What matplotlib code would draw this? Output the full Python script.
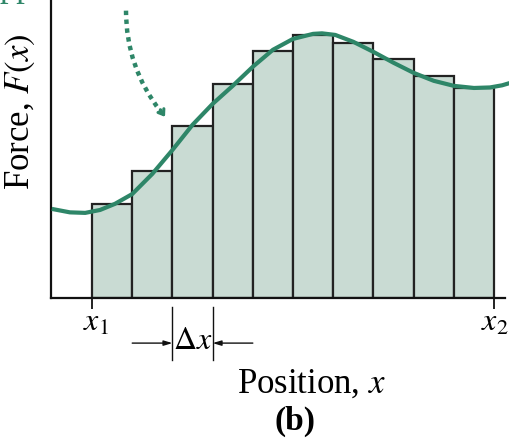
import matplotlib
matplotlib.use("Agg")
import matplotlib.pyplot as plt
from matplotlib.patches import FancyArrowPatch

plt.rcParams["font.family"] = ["Liberation Serif", "DejaVu Serif"]
plt.rcParams["mathtext.fontset"] = "stix"

GREEN = "#2e8668"
FILL = "#c9dbd3"
EDGE = "#222222"

# bar strips: x1 = 0, x2 = 10, width dx = 1
bar_left = [0, 1, 2, 3, 4, 5, 6, 7, 8, 9]
bar_height = [3.55, 4.79, 6.49, 8.08, 9.32, 9.92, 9.62, 9.02, 8.38, 7.92]

# the force curve F(x)
curve_x = [-1.0, -0.55, -0.17, 0.2, 0.57, 1.0, 1.5, 2.0, 2.5, 3.0, 3.5, 4.0, 4.5,
           5.0, 5.5, 5.72, 6.05, 6.5, 7.0, 7.5, 8.0, 8.5, 9.0, 9.5, 9.9, 10.2, 10.4]
curve_f = [3.36, 3.23, 3.21, 3.32, 3.55, 3.92, 4.68, 5.58, 6.53, 7.32, 8.00, 8.72, 9.36,
           9.77, 9.96, 9.98, 9.92, 9.66, 9.28, 8.87, 8.49, 8.19, 8.00, 7.92, 7.94, 8.02, 8.11]

tick_pos = [0, 10]
tick_text = ["$x_1$", "$x_2$"]
label_pos = [0.1, 10.02]

fig = plt.figure(figsize=(5.10, 4.46), dpi=100)
ax = fig.add_axes([0.1, 0.3318, 0.890, 0.666])
ax.set_xlim(-1.02, 10.27)
ax.set_ylim(0, 11.2)

ax.bar(bar_left, bar_height, width=1.0, align="edge", color=FILL,
       edgecolor=EDGE, linewidth=1.6, zorder=2)
ax.plot(curve_x, curve_f, color=GREEN, lw=3.0, solid_joinstyle="round",
        solid_capstyle="butt", clip_on=False, zorder=3)

for s in ["top", "right"]:
    ax.spines[s].set_visible(False)
for s in ["left", "bottom"]:
    ax.spines[s].set_linewidth(1.6)
    ax.spines[s].set_color("#111111")
ax.set_yticks([])
ax.set_xticks(tick_pos)
ax.set_xticklabels([])
ax.tick_params(axis="x", direction="out", length=8, width=1.3, color="#111111")
for p, t in zip(label_pos, tick_text):
    ax.text(p, -0.95, t, ha="center", va="center", fontsize=23, clip_on=False)

# delta x marker
for p in [2, 3]:
    ax.plot([p, p], [-0.34, -2.34], color="#111111", lw=1.0, clip_on=False)
ax.annotate("", xy=(2, -1.7), xytext=(1.0, -1.7),
            arrowprops=dict(arrowstyle="-|>,head_length=0.5,head_width=0.15",
                            color="#111111", lw=1.0, shrinkA=0, shrinkB=0),
            annotation_clip=False)
ax.annotate("", xy=(3, -1.7), xytext=(4.0, -1.7),
            arrowprops=dict(arrowstyle="-|>,head_length=0.5,head_width=0.15",
                            color="#111111", lw=1.0, shrinkA=0, shrinkB=0),
            annotation_clip=False)
ax.text(2.5, -1.65, r"$\Delta x$", ha="center", va="center", fontsize=23,
        clip_on=False)

# dotted pointer arrow
shaft = FancyArrowPatch((0.846, 10.94), (1.75, 6.95), arrowstyle="-",
                        connectionstyle="arc3,rad=0.18", color=GREEN, lw=3.2,
                        linestyle=(0, (1, 1)), capstyle="butt", zorder=4)
ax.add_patch(shaft)
ax.annotate("", xy=(1.816, 6.83), xytext=(1.70, 7.10),
            arrowprops=dict(arrowstyle="->,head_length=0.35,head_width=0.25",
                            color=GREEN, lw=2.2, shrinkA=0, shrinkB=0),
            annotation_clip=False)

ax.set_xlabel("Position, $x$", fontsize=25, labelpad=0)
ax.xaxis.set_label_coords(0.574, -0.236)
ax.set_ylabel("Force, $F(x)$", fontsize=25, labelpad=0)
ax.yaxis.set_label_coords(-0.03, 0.626)

fig.text(0.578, 0.056, "(b)", ha="center", va="center", fontsize=24,
         fontweight="bold")
# cropped caption above the figure, only its descenders show
fig.text(0.0, 1.008, "pp", ha="left", va="baseline", fontsize=25, color=GREEN)

fig.savefig("out.png", dpi=100)
